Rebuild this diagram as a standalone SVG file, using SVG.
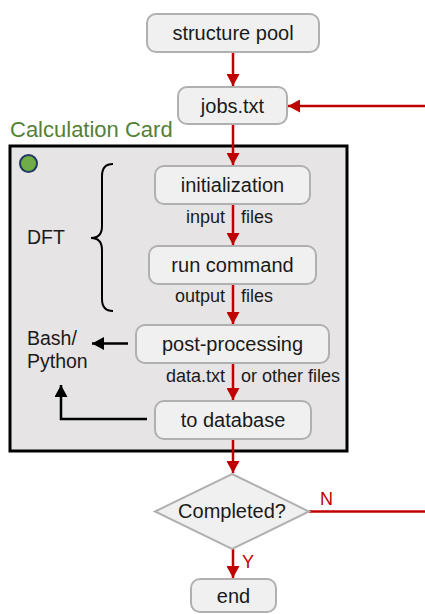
<svg xmlns="http://www.w3.org/2000/svg" width="425" height="614" viewBox="0 0 425 614">
<style>
  text { font-family: "Liberation Sans", Arial, sans-serif; fill: #1a1a1a; }
  .node rect, .node polygon { fill: #f0f0f0; stroke: #b0b0b0; stroke-width: 2; }
  .lbl { font-size: 20px; text-anchor: middle; }
  .sm { font-size: 18px; }
  .red { stroke: #c00000; stroke-width: 2.5; fill: none; }
  .blk { stroke: #000; stroke-width: 2.5; fill: none; }
</style>
<defs>
  <marker id="ar" markerUnits="userSpaceOnUse" markerWidth="13" markerHeight="13" refX="12" refY="6.5" orient="auto">
    <path d="M0,0 L12,6.5 L0,13 z" fill="#c00000"/>
  </marker>
  <marker id="ab" markerUnits="userSpaceOnUse" markerWidth="13" markerHeight="13" refX="12" refY="6.5" orient="auto">
    <path d="M0,0 L12,6.5 L0,13 z" fill="#000"/>
  </marker>
</defs>

<g id="card">
  <rect x="10" y="146" width="337" height="305" fill="#e6e4e5" stroke="#000" stroke-width="3"/>
  <text x="10" y="137" font-size="22" style="fill:#538135">Calculation Card</text>
  <circle cx="28.5" cy="163.5" r="8.5" fill="#70ad47" stroke="#1f3864" stroke-width="2"/>
</g>

<g id="dft-brace">
  <path d="M113,164 Q102,164 102,176 V226 Q102,238 91,238 Q102,238 102,250 V299 Q102,311 113,311" fill="none" stroke="#000" stroke-width="2"/>
  <text x="27" y="244" font-size="19.5">DFT</text>
</g>

<g id="bash-python">
  <text x="27" y="345" font-size="19.5">Bash/</text>
  <text x="27" y="368" font-size="19.5">Python</text>
</g>

<g id="connectors">
  <path class="red" d="M233,52 V86" marker-end="url(#ar)"/>
  <path class="red" d="M425,106 H288" marker-end="url(#ar)"/>
  <path class="red" d="M233,124 V165" marker-end="url(#ar)"/>
  <path class="red" d="M233,204 V245" marker-end="url(#ar)"/>
  <path class="red" d="M233,284 V324" marker-end="url(#ar)"/>
  <path class="red" d="M233,363 V400" marker-end="url(#ar)"/>
  <path class="red" d="M233,439 V473" marker-end="url(#ar)"/>
  <path class="red" d="M309,511.5 H425"/>
  <path class="red" d="M233,549 V578" marker-end="url(#ar)"/>
  <path class="blk" d="M128,343.5 H92" marker-end="url(#ab)"/>
  <path class="blk" d="M147,419 H61 V385" marker-end="url(#ab)"/>
  <text class="sm" x="225" y="223" text-anchor="end">input</text>
  <text class="sm" x="241" y="223">files</text>
  <text class="sm" x="225" y="302" text-anchor="end">output</text>
  <text class="sm" x="241" y="302">files</text>
  <text class="sm" x="225" y="382" text-anchor="end">data.txt</text>
  <text class="sm" x="241" y="382">or other files</text>
  <text x="320" y="505" font-size="18" style="fill:#c00000">N</text>
  <text x="242" y="568" font-size="18" style="fill:#c00000">Y</text>
</g>

<g id="structure-pool" class="node">
  <rect x="147" y="14" width="172" height="38" rx="9"/>
  <text class="lbl" x="233" y="40">structure pool</text>
</g>
<g id="jobs" class="node">
  <rect x="178" y="87" width="109" height="37" rx="9"/>
  <text class="lbl" x="232.5" y="112.5">jobs.txt</text>
</g>
<g id="initialization" class="node">
  <rect x="155" y="166" width="155" height="38" rx="9"/>
  <text class="lbl" x="232.5" y="192">initialization</text>
</g>
<g id="run-command" class="node">
  <rect x="149" y="246" width="167" height="38" rx="9"/>
  <text class="lbl" x="232.5" y="272">run command</text>
</g>
<g id="post-processing" class="node">
  <rect x="136" y="325" width="193" height="38" rx="9"/>
  <text class="lbl" x="232.5" y="351">post-processing</text>
</g>
<g id="to-database" class="node">
  <rect x="155" y="401" width="156" height="38" rx="9"/>
  <text class="lbl" x="233" y="427">to database</text>
</g>
<g id="completed" class="node">
  <polygon points="232,474 309,511.5 232,549 155,511.5"/>
  <text class="lbl" x="232" y="518">Completed?</text>
</g>
<g id="end" class="node">
  <rect x="191" y="579" width="85" height="33" rx="9"/>
  <text class="lbl" x="233.5" y="603">end</text>
</g>
</svg>
